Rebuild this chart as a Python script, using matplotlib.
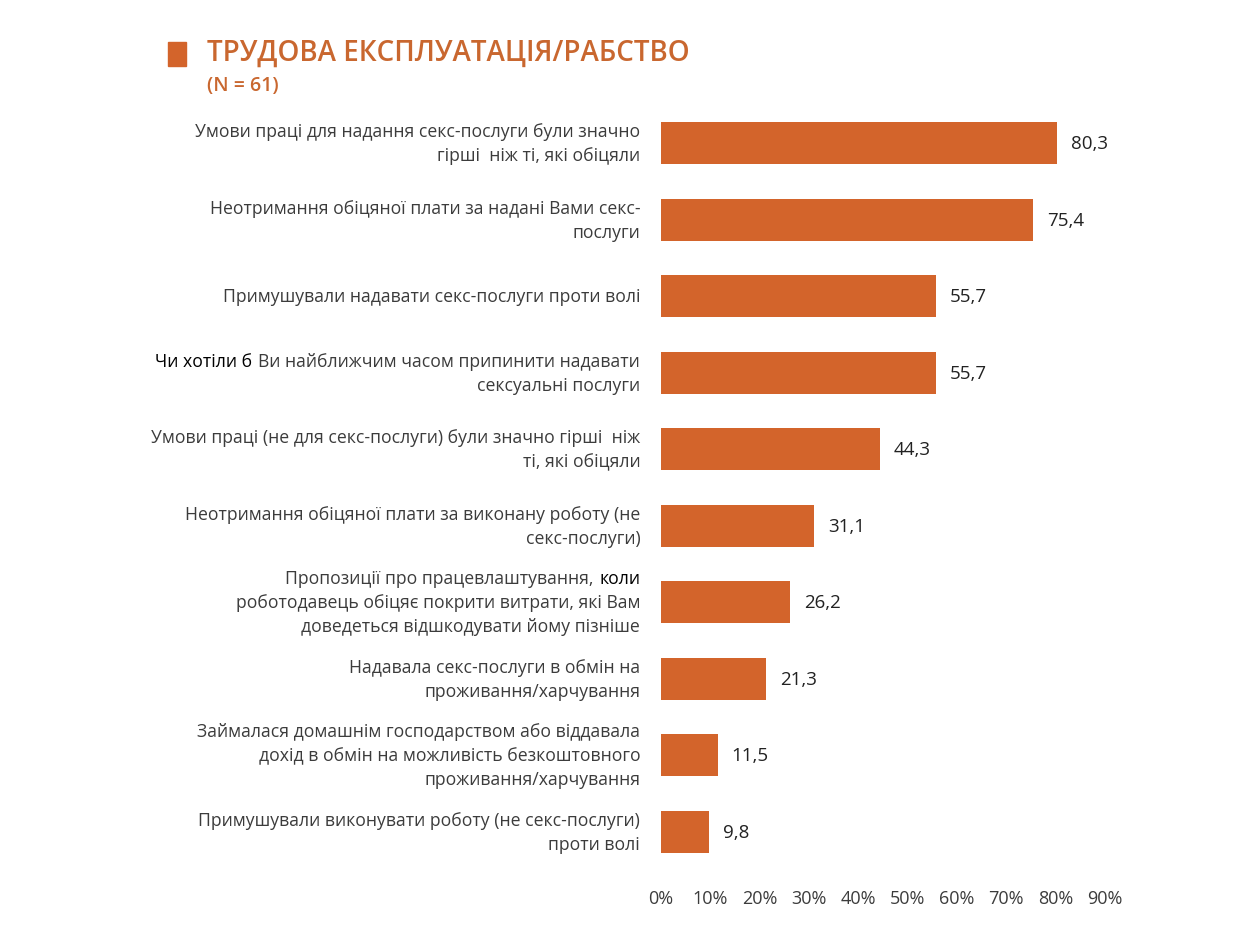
import matplotlib
matplotlib.use("Agg")
import matplotlib.pyplot as plt

# data (per cent, top to bottom)
labels = [
    "Умови праці для надання секс-послуги були значно\nгірші  ніж ті, які обіцяли",
    "Неотримання обіцяної плати за надані Вами секс-\nпослуги",
    "Примушували надавати секс-послуги проти волі",
    "Чи хотіли б  Ви найближчим часом припинити надавати\nсексуальні послуги",
    "Умови праці (не для секс-послуги) були значно гірші  ніж\nті, які обіцяли",
    "Неотримання обіцяної плати за виконану роботу (не\nсекс-послуги)",
    "Пропозиції про працевлаштування, коли\nроботодавець обіцяє покрити витрати, які Вам\nдоведеться відшкодувати йому пізніше",
    "Надавала секс-послуги в обмін на\nпроживання/харчування",
    "Займалася домашнім господарством або віддавала\nдохід в обмін на можливість безкоштовного\nпроживання/харчування",
    "Примушували виконувати роботу (не секс-послуги)\nпроти волі",
]
values = [80.3, 75.4, 55.7, 55.7, 44.3, 31.1, 26.2, 21.3, 11.5, 9.8]
# words printed in black rather than grey: (label index, line, prefix or suffix, text)
dark_words = [(3, 0, "prefix", "Чи хотіли б  "), (6, 0, "suffix", " коли")]
ticks = [0, 10, 20, 30, 40, 50, 60, 70, 80, 90]

title = "ТРУДОВА ЕКСПЛУАТАЦІЯ/РАБСТВО"
subtitle = "(N = 61)"

ORANGE = "#D3642B"
TITLE_C = "#C9672F"
GREY = "#3c3c3c"
FONT = "Open Sans"
LFS = 12.7            # category label size

fig = plt.figure(figsize=(12.5, 9.37), dpi=100)
ax = fig.add_axes([0.5288, 0.0704, 0.3552, 0.8165])
y = list(range(len(values)))
ax.barh(y, values, height=0.55, color=ORANGE)
ax.set_xlim(0, 90)
ax.set_ylim(len(values) - 0.5, -0.5)
for s in ax.spines.values():
    s.set_visible(False)
ax.set_yticks([])
ax.set_xticks(ticks)
ax.set_xticklabels([f"{t}%" for t in ticks], fontsize=13, color=GREY, family=FONT)
ax.tick_params(axis="x", length=0, pad=14)

for i, v in enumerate(values):
    ax.annotate(f"{v:.1f}".replace(".", ","), (v, i), xytext=(10, 0), textcoords="offset points",
                ha="left", va="center", fontsize=13.5, color="#222222", family=FONT)

# category labels, drawn line by line so some words can be black
LS = 24 * 0.72        # line step in points (24 px)
XOFF = -15            # points left of the axis
pending = []
for i, lab in enumerate(labels):
    lines = lab.split("\n")
    n = len(lines)
    for k, line in enumerate(lines):
        dy = ((n - 1) / 2 - k) * LS
        dark = [d for d in dark_words if d[0] == i and d[1] == k]
        if dark and dark[0][2] == "prefix":
            rest = line[len(dark[0][3]):]
            t = ax.annotate(rest, (0, i), xytext=(XOFF, dy), textcoords="offset points",
                            ha="right", va="center", fontsize=LFS, color=GREY, family=FONT)
            pending.append((t, i, dy, dark[0][3].rstrip(), "prefix"))
        elif dark and dark[0][2] == "suffix":
            word = dark[0][3]
            t = ax.annotate(word.strip(), (0, i), xytext=(XOFF, dy), textcoords="offset points",
                            ha="right", va="center", fontsize=LFS, color="black", family=FONT)
            pending.append((t, i, dy, line[:-len(word)] + " ", "suffix"))
        else:
            ax.annotate(line, (0, i), xytext=(XOFF, dy), textcoords="offset points",
                        ha="right", va="center", fontsize=LFS, color=GREY, family=FONT)

fig.canvas.draw()
r = fig.canvas.get_renderer()
for t, i, dy, txt, kind in pending:
    w = t.get_window_extent(r).width * 72 / fig.dpi
    gap = 4.5
    col = "black" if kind == "prefix" else GREY
    ax.annotate(txt.strip(), (0, i), xytext=(XOFF - w - gap, dy), textcoords="offset points",
                ha="right", va="center", fontsize=LFS, color=col, family=FONT)

# title block
fig.patches.append(plt.Rectangle((168 / 1250, 1 - 67 / 937), 18 / 1250, 24 / 937,
                                 transform=fig.transFigure, color=ORANGE))
fig.text(207 / 1250, 1 - 53 / 937, title, fontsize=20, fontweight="semibold", color=TITLE_C,
         family=FONT, va="center", ha="left")
fig.text(207 / 1250, 1 - 86 / 937, subtitle, fontsize=14, fontweight="semibold", color=TITLE_C,
         family=FONT, va="center", ha="left")

fig.savefig("out.png", dpi=100)
